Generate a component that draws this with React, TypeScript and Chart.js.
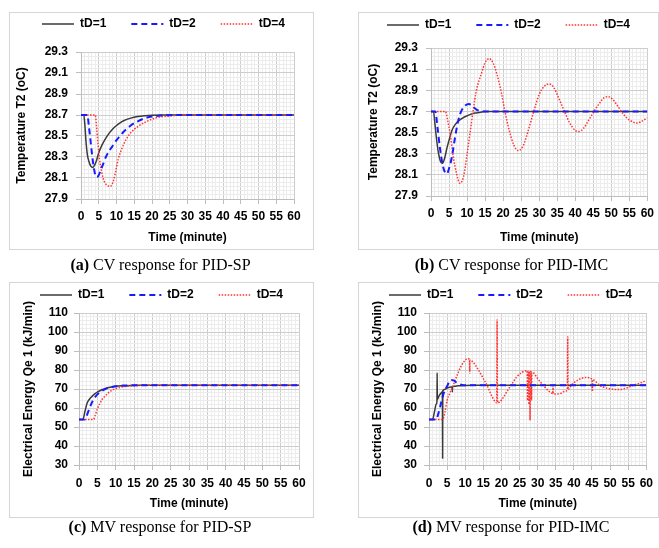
import { useEffect, useRef } from 'react';
import { Chart, registerables } from 'chart.js';
Chart.register(...registerables);

const FONT = "'Liberation Sans', Arial, 'DejaVu Sans', sans-serif";
const SERIF = "'Liberation Serif', 'Times New Roman', 'DejaVu Serif', serif";
const FS = 12;

// ---------- labels ----------
const seriesLabels = ['tD=1', 'tD=2', 'tD=4'];
const timeTicks = [0, 5, 10, 15, 20, 25, 30, 35, 40, 45, 50, 55, 60];
const cvTicks = [27.9, 28.1, 28.3, 28.5, 28.7, 28.9, 29.1, 29.3];
const mvTicks = [30, 40, 50, 60, 70, 80, 90, 100, 110];
const cvTitle = 'Temperature T2 (oC)';
const mvTitle = 'Electrical Energy Qe 1 (kJ/min)';
const timeTitle = 'Time (minute)';

// ---------- (a) CV response for PID-SP ----------
const spCvT1 = [0, 0.8, 1.1, 1.4, 1.8, 2.3, 2.8, 3.3, 3.8, 4.4, 5, 6, 7, 8, 9, 10, 11, 12, 14, 16, 18, 20, 23, 60];
const spCv1 = [28.7, 28.7, 28.6, 28.45, 28.32, 28.25, 28.21, 28.2, 28.22, 28.27, 28.34, 28.42, 28.48, 28.53, 28.57, 28.6, 28.625, 28.645, 28.67, 28.685, 28.693, 28.698, 28.7, 28.7];
const spCvT2 = [0, 1.8, 2.2, 2.7, 3.2, 3.7, 4.3, 4.9, 5.5, 6.2, 7, 8, 9, 10, 11, 12, 14, 16, 18, 20, 23, 26, 60];
const spCv2 = [28.7, 28.7, 28.6, 28.45, 28.3, 28.18, 28.11, 28.12, 28.17, 28.23, 28.3, 28.36, 28.41, 28.46, 28.5, 28.54, 28.6, 28.64, 28.67, 28.685, 28.695, 28.7, 28.7];
const spCvT4 = [0, 4, 4.4, 4.8, 5.2, 5.7, 6.2, 6.8, 7.4, 8, 8.6, 9.2, 9.8, 10.5, 11.5, 12.6, 14, 16, 18, 20, 22, 25, 28, 60];
const spCv4 = [28.7, 28.7, 28.58, 28.42, 28.28, 28.18, 28.1, 28.05, 28.03, 28.02, 28.03, 28.08, 28.17, 28.28, 28.38, 28.46, 28.53, 28.59, 28.63, 28.66, 28.68, 28.69, 28.7, 28.7];

// ---------- (b) CV response for PID-IMC ----------
const imcCvT1 = [0, 0.7, 1.1, 1.6, 2.1, 2.6, 3.2, 3.8, 4.4, 5.1, 5.8, 6.8, 8, 9.4, 10.8, 12.2, 13.5, 15, 60];
const imcCv1 = [28.7, 28.7, 28.58, 28.42, 28.3, 28.23, 28.21, 28.26, 28.35, 28.44, 28.52, 28.58, 28.62, 28.65, 28.67, 28.685, 28.69, 28.7, 28.7];
const imcCvT2 = [0, 1.2, 1.8, 2.5, 3.2, 3.8, 4.4, 5, 5.8, 6.7, 7.6, 8.5, 9.5, 10.5, 11.5, 12.5, 13.5, 15, 60];
const imcCv2 = [28.7, 28.7, 28.55, 28.35, 28.2, 28.13, 28.11, 28.16, 28.27, 28.46, 28.62, 28.71, 28.755, 28.77, 28.75, 28.72, 28.705, 28.7, 28.7];
const imcCvT4 = [0, 4, 4.6, 5.3, 6.2, 7.1, 8, 9, 9.9, 10.8, 11.7, 12.6, 14, 15, 16.1, 17.2, 18.3, 19.5, 20.5, 21.7, 23, 24.2, 25.5, 26.8, 28.5, 30, 31.5, 32.8, 34, 35.5, 37, 38.5, 40, 41, 42.3, 43.8, 45.2, 46.8, 48, 49.2, 50.5, 52, 53.2, 55, 57.2, 58.6, 60];
const imcCv4 = [28.7, 28.7, 28.62, 28.49, 28.27, 28.11, 28.02, 28.08, 28.27, 28.49, 28.71, 28.9, 29.06, 29.16, 29.2, 29.16, 29.05, 28.88, 28.7, 28.52, 28.38, 28.33, 28.37, 28.5, 28.7, 28.86, 28.94, 28.96, 28.93, 28.82, 28.7, 28.59, 28.52, 28.51, 28.54, 28.62, 28.7, 28.78, 28.83, 28.84, 28.81, 28.74, 28.68, 28.62, 28.59, 28.61, 28.64];

// ---------- (c) MV response for PID-SP ----------
const spMvT1 = [0, 1.1, 1.6, 2.2, 2.8, 3.5, 4.3, 5.2, 6.2, 7.2, 8.5, 10, 12, 14, 17, 20, 60];
const spMv1 = [54, 54, 58, 62.5, 64.5, 66, 67.4, 68.6, 69.6, 70.3, 70.9, 71.4, 71.7, 71.9, 72, 72, 72];
const spMvT2 = [0, 1.5, 2, 2.6, 3.2, 3.8, 4.5, 5.2, 6, 7, 8, 9, 10.5, 12, 14, 17, 20, 60];
const spMv2 = [54, 54, 55.5, 58.5, 61.5, 64, 66, 67.5, 68.7, 69.8, 70.6, 71.1, 71.5, 71.8, 71.9, 72, 72, 72];
const spMvT4 = [0, 4, 4.4, 5, 5.6, 6.3, 7, 7.8, 8.8, 10, 11.5, 12.5, 14, 16, 18, 22, 60];
const spMv4 = [54, 54, 56, 59.5, 62, 64.5, 66, 67.6, 69.1, 70.2, 71, 71.3, 71.6, 71.85, 72, 72, 72];

// ---------- (d) MV response for PID-IMC ----------
const imcMvT1 = [0, 1, 1.5, 2, 2.2, 2.25, 2.3, 2.8, 3.4, 3.7, 3.75, 3.8, 4.3, 5, 6, 6.4, 6.45, 6.5, 7, 8, 10, 12, 60];
const imcMv1 = [54, 54, 58, 62, 63.5, 78.5, 64.5, 66.5, 68, 68.5, 33.5, 69, 69.8, 70.5, 71, 71.1, 68.5, 71.2, 71.5, 71.7, 71.9, 72, 72];
const imcMvT2 = [0, 2, 2.5, 3, 3.5, 4.3, 5, 5.5, 6.1, 6.8, 7.5, 8.5, 9.7, 11, 60];
const imcMv2 = [54, 54, 56.5, 60, 64, 69, 71.5, 73.5, 74.7, 74.5, 73.5, 72.5, 72, 72, 72];
const imcMvT4 = [0, 3.8, 4.4, 5, 5.8, 6.5, 7.5, 8.8, 9.7, 10.6, 11.2, 11.25, 11.3, 12.2, 13.5, 14.7, 16, 17, 18, 18.7, 18.8, 18.9, 19.5, 20.5, 21.5, 23, 24.3, 25.7, 27, 27.1, 27.2, 27.4, 27.5, 27.6, 27.8, 27.9, 28, 28.2, 28.3, 28.4, 28.8, 30, 31.5, 33, 34.2, 34.25, 34.3, 35.2, 36.5, 37.5, 38.2, 38.3, 38.4, 39.3, 41.1, 43.3, 45, 45.1, 45.2, 46.5, 47.4, 49, 51, 52.4, 54.5, 56.5, 58.5, 60];
const imcMv4 = [54, 54, 58, 64, 68, 71, 76, 81.8, 84.5, 86, 85.5, 78.5, 85.3, 84, 80.5, 76.5, 72, 67.7, 64, 62.8, 106.5, 62.8, 63.2, 65.5, 68.6, 73, 76.5, 78.8, 79.6, 79.6, 64, 79.5, 79.5, 62, 79.3, 53.5, 79.2, 79, 64, 78.9, 78.6, 75.5, 72, 69, 67.6, 71.5, 67.5, 67.4, 67.8, 68.8, 69.5, 97.5, 69.8, 72, 74.7, 76.1, 75.2, 68.6, 75, 73, 71.6, 70.5, 69.8, 69.7, 70.5, 72, 73.3, 74.4];

// ---------- styles ----------
const seriesStyles = [
  { color: '#3a3a3a', width: 1.5, dash: [] as number[], order: 2 },
  { color: '#1a1aff', width: 2, dash: [6, 4], order: 0 },
  { color: '#ff3333', width: 1.5, dash: [1.5, 1.5], order: 1 },
];
const MAJOR_GRID = '#cdcdcd';
const MINOR_GRID = '#ececec';
const AXIS = '#bdbdbd';
const SUB = 5;
const LEG_PAD = 25;

type Series = { t: number[]; v: number[] };
type PanelDef = {
  id: string;
  left: number; top: number; w: number; h: number;
  yAxisW: number; padRight: number; chartTop: number; xAxisH: number;
  yTitlePad: number; yTickPad: number; xTickPad: number; xTitlePad: number;
  legendY: number; legendDx: number;
  yMajor: number[]; yTitle: string; yDigits: number;
  series: Series[];
  capLetter: string; capText: string; capX: number; capY: number;
};

const panels: PanelDef[] = [
  {
    id: 'a', left: 9, top: 12, w: 305, h: 238,
    yAxisW: 72, padRight: 20, chartTop: 40, xAxisH: 51,
    yTitlePad: 5.5, yTickPad: 8, xTickPad: 5.5, xTitlePad: 5,
    legendY: 12, legendDx: 2,
    yMajor: cvTicks, yTitle: cvTitle, yDigits: 1,
    series: [{ t: spCvT1, v: spCv1 }, { t: spCvT2, v: spCv2 }, { t: spCvT4, v: spCv4 }],
    capLetter: '(a)', capText: ' CV response for PID-SP', capX: 160.5, capY: 256,
  },
  {
    id: 'b', left: 358, top: 12, w: 301, h: 238,
    yAxisW: 73, padRight: 10, chartTop: 36, xAxisH: 54,
    yTitlePad: 8, yTickPad: 8, xTickPad: 5, xTitlePad: 5.5,
    legendY: 13, legendDx: 0,
    yMajor: cvTicks, yTitle: cvTitle, yDigits: 1,
    series: [{ t: imcCvT1, v: imcCv1 }, { t: imcCvT2, v: imcCv2 }, { t: imcCvT4, v: imcCv4 }],
    capLetter: '(b)', capText: ' CV response for PID-IMC', capX: 511.5, capY: 256,
  },
  {
    id: 'c', left: 9, top: 282, w: 305, h: 236,
    yAxisW: 70, padRight: 15, chartTop: 31, xAxisH: 53,
    yTitlePad: 12, yTickPad: 6, xTickPad: 6, xTitlePad: 7.5,
    legendY: 13, legendDx: 0,
    yMajor: mvTicks, yTitle: mvTitle, yDigits: 0,
    series: [{ t: spMvT1, v: spMv1 }, { t: spMvT2, v: spMv2 }, { t: spMvT4, v: spMv4 }],
    capLetter: '(c)', capText: ' MV response for PID-SP', capX: 160, capY: 518,
  },
  {
    id: 'd', left: 358, top: 282, w: 301, h: 236,
    yAxisW: 71, padRight: 10, chartTop: 31, xAxisH: 53,
    yTitlePad: 12.5, yTickPad: 7, xTickPad: 6, xTitlePad: 7.5,
    legendY: 13, legendDx: 2,
    yMajor: mvTicks, yTitle: mvTitle, yDigits: 0,
    series: [{ t: imcMvT1, v: imcMv1 }, { t: imcMvT2, v: imcMv2 }, { t: imcMvT4, v: imcMv4 }],
    capLetter: '(d)', capText: ' MV response for PID-IMC', capX: 511, capY: 518,
  },
];

function makeTicks(major: number[], sub: number) {
  const out: { value: number }[] = [];
  for (let i = 0; i < major.length - 1; i++) {
    for (let k = 0; k < sub; k++) {
      out.push({ value: major[i] + ((major[i + 1] - major[i]) * k) / sub });
    }
  }
  out.push({ value: major[major.length - 1] });
  return out;
}

// Places the legend row at a given vertical centre and horizontal offset.
const legendShift = {
  id: 'legendShift',
  afterLayout(chart: any, _args: any, opts: any) {
    const lg = chart.legend;
    if (!lg) return;
    const P = lg.options.labels.padding;
    lg.top = opts.y - P - FS / 2;
    lg.bottom = opts.y + FS;
    lg.left += opts.dx;
    lg.right += opts.dx;
  },
};

const tickFont = { family: FONT, size: FS, weight: 'bold' as const };
const isMajor = (i: number) => i % SUB === 0;

function gridOpts() {
  return {
    color: (c: any) => (isMajor(c.index) ? MAJOR_GRID : MINOR_GRID),
    tickColor: (c: any) => (isMajor(c.index) ? AXIS : 'rgba(0,0,0,0)'),
    tickLength: 5,
    lineWidth: 1,
  };
}

function legendLabels(chart: any) {
  const items = (Chart.defaults as any).plugins.legend.labels.generateLabels(chart);
  items.forEach((it: any) => {
    const ds = chart.data.datasets[it.datasetIndex];
    it.lineDash = ds.borderDash;
    it.lineWidth = ds.borderWidth;
    it.strokeStyle = ds.borderColor;
    it.pointStyle = 'line';
  });
  items.sort((a: any, b: any) => a.datasetIndex - b.datasetIndex);
  return items;
}

function buildConfig(p: PanelDef): any {
  return {
    type: 'line',
    data: {
      datasets: p.series.map((s, i) => ({
        label: seriesLabels[i],
        data: s.t.map((t, j) => ({ x: t, y: s.v[j] })),
        borderColor: seriesStyles[i].color,
        backgroundColor: seriesStyles[i].color,
        borderWidth: seriesStyles[i].width,
        borderDash: seriesStyles[i].dash,
        order: seriesStyles[i].order,
        pointRadius: 0,
        fill: false,
        cubicInterpolationMode: 'monotone',
      })),
    },
    options: {
      responsive: false,
      animation: false,
      devicePixelRatio: 1,
      layout: { padding: 0 },
      plugins: {
        legend: {
          position: 'top',
          maxHeight: p.chartTop,
          labels: {
            usePointStyle: true,
            pointStyle: 'line',
            pointStyleWidth: 32,
            padding: LEG_PAD,
            color: '#000',
            font: tickFont,
            generateLabels: legendLabels,
          },
        },
        tooltip: { enabled: false },
        legendShift: { y: p.legendY, dx: p.legendDx },
      },
      scales: {
        x: {
          type: 'linear',
          min: timeTicks[0],
          max: timeTicks[timeTicks.length - 1],
          afterBuildTicks: (s: any) => { s.ticks = makeTicks(timeTicks, SUB); },
          afterFit: (s: any) => { s.height = p.xAxisH; },
          grid: gridOpts(),
          border: { color: AXIS },
          ticks: {
            autoSkip: false,
            maxRotation: 0,
            minRotation: 0,
            padding: p.xTickPad,
            color: '#000',
            font: tickFont,
            callback: (v: any, i: number) => (isMajor(i) ? String(Math.round(Number(v))) : ''),
          },
          title: {
            display: true,
            text: timeTitle,
            color: '#000',
            font: tickFont,
            padding: { top: 0, bottom: p.xTitlePad },
          },
        },
        y: {
          type: 'linear',
          min: p.yMajor[0],
          max: p.yMajor[p.yMajor.length - 1],
          afterBuildTicks: (s: any) => { s.ticks = makeTicks(p.yMajor, SUB); },
          afterFit: (s: any) => { s.width = p.yAxisW; },
          grid: gridOpts(),
          border: { color: AXIS },
          ticks: {
            autoSkip: false,
            padding: p.yTickPad,
            color: '#000',
            font: tickFont,
            callback: (v: any, i: number) => (isMajor(i) ? Number(v).toFixed(p.yDigits) : ''),
          },
          title: {
            display: true,
            text: p.yTitle,
            color: '#000',
            font: tickFont,
            padding: { top: p.yTitlePad, bottom: 0 },
          },
        },
        // empty spacer on the right so the legend can use the full width
        ySpacer: {
          type: 'linear',
          position: 'right',
          display: true,
          grid: { display: false, drawTicks: false },
          border: { display: false },
          ticks: { display: false },
          afterFit: (s: any) => { s.width = p.padRight; },
        },
      },
    },
    plugins: [legendShift],
  };
}

function PanelChart({ p }: { p: PanelDef }) {
  const ref = useRef<HTMLCanvasElement>(null);
  useEffect(() => {
    if (!ref.current) return;
    const chart = new Chart(ref.current, buildConfig(p));
    return () => chart.destroy();
  }, [p]);
  return (
    <>
      <canvas
        ref={ref}
        width={p.w}
        height={p.h}
        style={{ position: 'absolute', left: p.left, top: p.top, width: p.w, height: p.h }}
      />
      <div
        style={{
          position: 'absolute', left: p.left, top: p.top, width: p.w, height: p.h,
          border: '1px solid #d6d6d6', boxSizing: 'border-box', pointerEvents: 'none',
        }}
      />
      <div
        style={{
          position: 'absolute', left: p.capX - 160, top: p.capY, width: 320, textAlign: 'center',
          fontFamily: SERIF, fontSize: 16, lineHeight: '18px', color: '#000', whiteSpace: 'nowrap',
        }}
      >
        <b>{p.capLetter}</b>{p.capText}
      </div>
    </>
  );
}

export default function App() {
  return (
    <div style={{ position: 'absolute', left: 0, top: 0, width: 659, height: 548, background: '#fff', overflow: 'hidden' }}>
      {panels.map((p) => (
        <PanelChart key={p.id} p={p} />
      ))}
    </div>
  );
}
